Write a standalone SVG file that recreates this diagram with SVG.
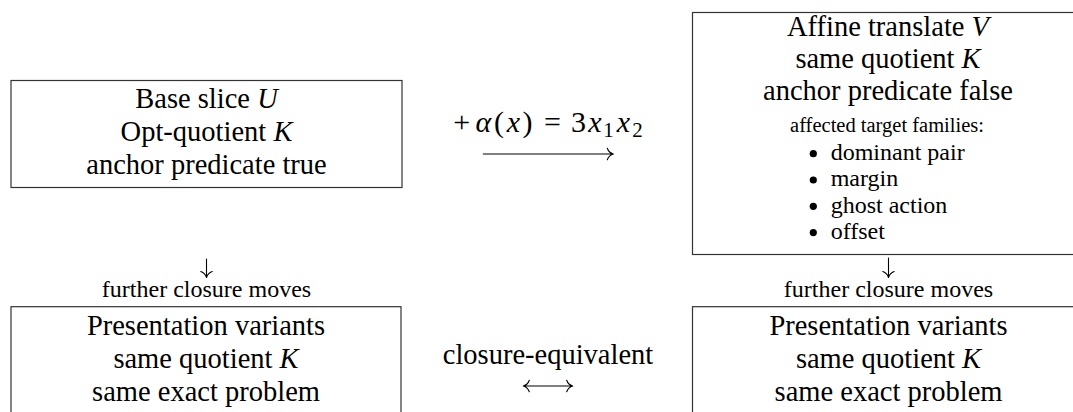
<svg xmlns="http://www.w3.org/2000/svg" width="1073" height="412" viewBox="0 0 1073 412" font-family="Liberation Serif, DejaVu Serif, serif">
<defs>
<style>
.main{font-size:28.5px;text-anchor:middle}
.lbl{font-size:24px;text-anchor:middle}
.item{font-size:24px}
.tiny{font-size:20.5px;text-anchor:middle}
.math{font-size:30px}
.sub{font-size:21px}
.it{font-style:italic}
.box{fill:#fff;stroke:#333;stroke-width:1.2}
.conn{fill:none;stroke:#000;stroke-width:1.1;stroke-linecap:round;stroke-linejoin:round}
.bul{fill:#000}
</style>
</defs>
<rect width="1073" height="412" fill="#fff"/>

<g id="node-base-slice" font-family="Liberation Serif, serif">
<rect class="box" x="11" y="80.5" width="391" height="107"/>
<text class="main" x="206.5" y="107.5">Base slice <tspan class="it">U</tspan></text>
<text class="main" x="206.5" y="140.5">Opt-quotient <tspan class="it">K</tspan></text>
<text class="main" x="206.5" y="173.5">anchor predicate true</text>
</g>

<g id="node-affine-translate" font-family="Liberation Serif, serif">
<rect class="box" x="692.5" y="12.5" width="391" height="242"/>
<text class="main" x="888" y="36">Affine translate <tspan class="it">V</tspan></text>
<text class="main" x="888" y="68">same quotient <tspan class="it">K</tspan></text>
<text class="main" x="888" y="100">anchor predicate false</text>
<text class="tiny" x="887" y="131.5">affected target families:</text>
<circle class="bul" cx="813.3" cy="153.7" r="3.6"/>
<text class="item" x="830.7" y="160">dominant pair</text>
<circle class="bul" cx="813.3" cy="180" r="3.6"/>
<text class="item" x="830.7" y="186.3">margin</text>
<circle class="bul" cx="813.3" cy="206.3" r="3.6"/>
<text class="item" x="830.7" y="212.6">ghost action</text>
<circle class="bul" cx="813.3" cy="232.6" r="3.6"/>
<text class="item" x="830.7" y="238.9">offset</text>
</g>

<g id="node-presentation-left" font-family="Liberation Serif, serif">
<rect class="box" x="11" y="306.7" width="390" height="130"/>
<text class="main" x="206" y="335">Presentation variants</text>
<text class="main" x="206" y="368">same quotient <tspan class="it">K</tspan></text>
<text class="main" x="206" y="400.5">same exact problem</text>
</g>

<g id="node-presentation-right" font-family="Liberation Serif, serif">
<rect class="box" x="692.5" y="306.7" width="391" height="130"/>
<text class="main" x="888.5" y="335">Presentation variants</text>
<text class="main" x="888.5" y="368">same quotient <tspan class="it">K</tspan></text>
<text class="main" x="888.5" y="400.5">same exact problem</text>
</g>

<g id="connectors" font-family="Liberation Serif, serif">
<path class="conn" d="M483.3,154 H613.3 M607.3,148.3 C608.4,151.4 610.8,153.3 613.3,154 C610.8,154.7 608.4,156.6 607.3,159.7"/>
<path class="conn" d="M523.3,386 H572.7 M566.7,380.3 C567.8,383.4 570.2,385.3 572.7,386 C570.2,386.7 567.8,388.6 566.7,391.7 M529.3,380.3 C528.2,383.4 525.8,385.3 523.3,386 C525.8,386.7 528.2,388.6 529.3,391.7"/>
<path class="conn" d="M206.5,259 V277.5 M200.8,271.5 C203.9,272.6 205.8,275 206.5,277.5 C207.2,275 209.1,272.6 212.2,271.5"/>
<path class="conn" d="M888.5,258 V277.5 M882.8,271.5 C885.9,272.6 887.8,275 888.5,277.5 C889.2,275 891.1,272.6 894.2,271.5"/>
<text class="math" y="131.5"><tspan x="453.2">+</tspan><tspan class="it" x="475.5">α</tspan><tspan x="494">(</tspan><tspan class="it" x="506.8">x</tspan><tspan x="522.5">)</tspan><tspan x="544">=</tspan><tspan x="571">3</tspan><tspan class="it" x="588.3">x</tspan><tspan class="sub" x="603.2" dy="5.5">1</tspan><tspan class="it" x="616.8" dy="-5.5">x</tspan><tspan class="sub" x="632.2" dy="5.5">2</tspan></text>
<text class="lbl" x="206.5" y="297">further closure moves</text>
<text class="lbl" x="888.5" y="297">further closure moves</text>
<text class="main" x="548" y="363.5">closure-equivalent</text>
</g>
</svg>
